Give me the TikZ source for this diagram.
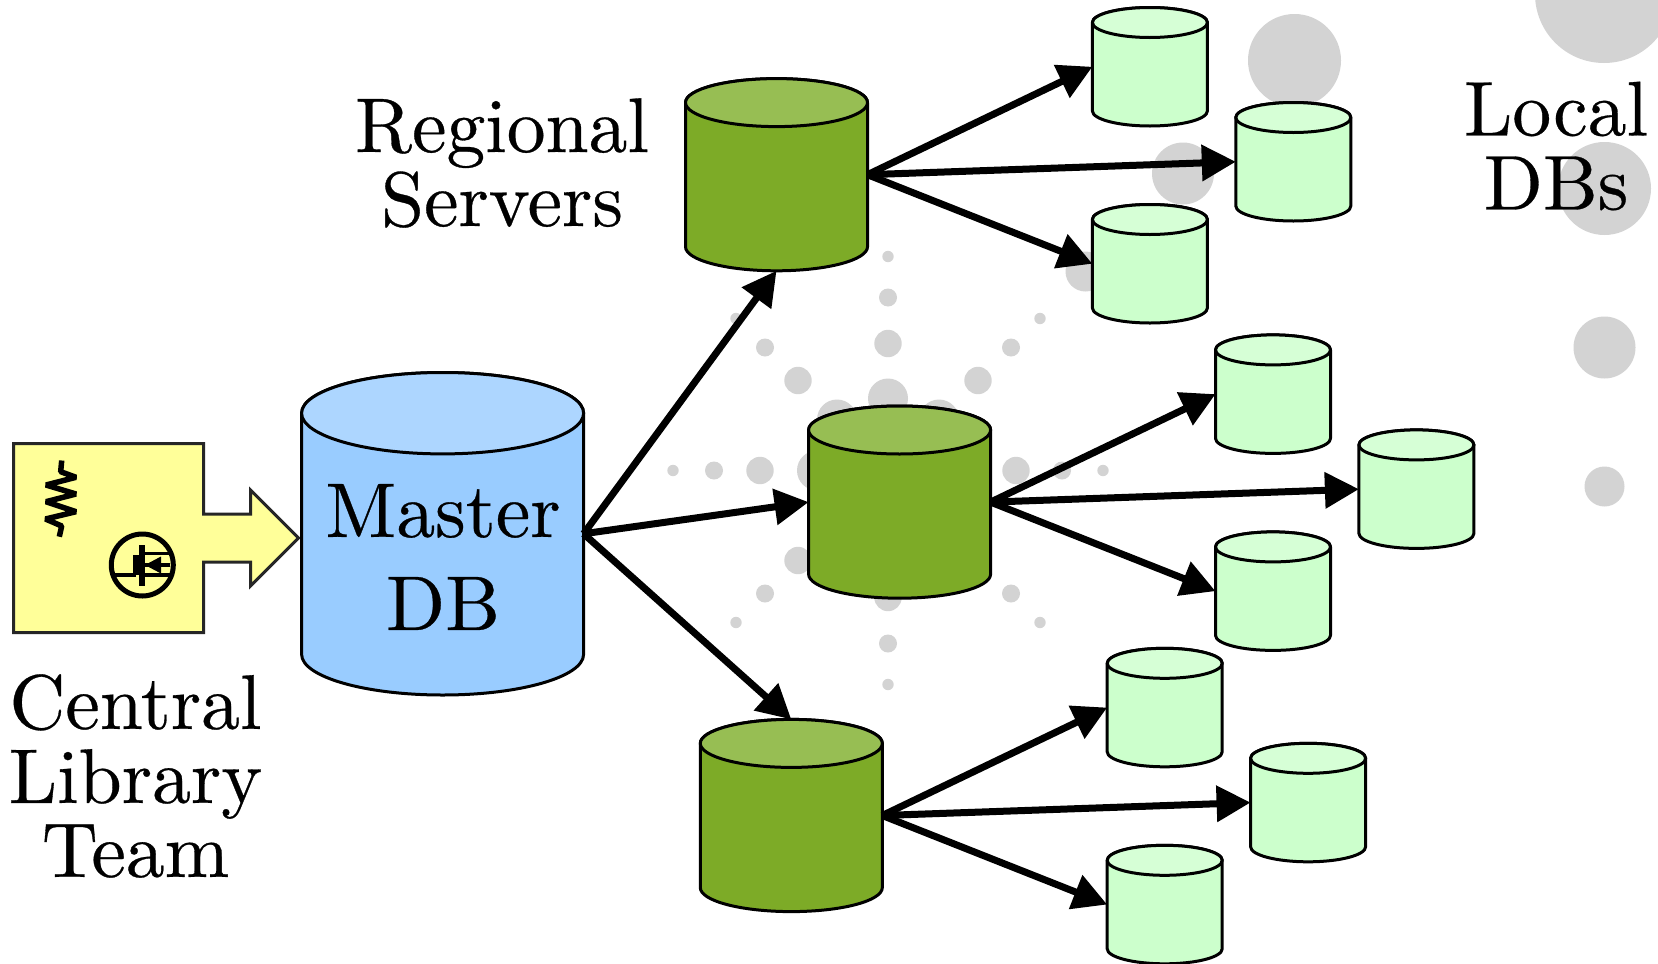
\documentclass[tikz,border=0pt]{standalone}
\usepackage{fontspec}
\setmainfont[Extension=.otf,FakeBold=0.4]{lmroman10-regular}
\usetikzlibrary{arrows.meta}
\definecolor{dotgray}{HTML}{D3D3D3}
\definecolor{masterbody}{HTML}{99CCFF}
\definecolor{mastertop}{HTML}{ADD6FF}
\definecolor{serverbody}{HTML}{7DAB27}
\definecolor{servertop}{HTML}{97BE53}
\definecolor{localbody}{HTML}{CCFFCC}
\definecolor{localtop}{HTML}{D6FFD6}
\definecolor{teamfill}{HTML}{FFFF99}
\newcommand\dbcyl[8]{% name,x,y,w,h,ry,body,top
  \pgfmathsetmacro\cxr{#2+#4}%
  \pgfmathsetmacro\cxm{#2+#4/2}%
  \pgfmathsetmacro\cym{#3+#5/2}%
  \pgfmathsetmacro\cyt{#3+#6}%
  \pgfmathsetmacro\cyb{#3+#5-#6}%
  \pgfmathsetmacro\crx{#4/2}%
  \draw[cylline,fill=#7] (#2,\cyt) -- (#2,\cyb) arc[start angle=180,end angle=0,x radius=\crx,y radius=#6] -- (\cxr,\cyt) arc[start angle=0,end angle=-180,x radius=\crx,y radius=#6] -- cycle;
  \draw[cylline,fill=#8] (\cxm,\cyt) ellipse[x radius=\crx,y radius=#6];
  \node[cylnode,minimum width=#4pt,minimum height=#5pt] (#1) at (\cxm,\cym) {};
}
\newcommand\localgroup[3]{% prefix, server x, server y (top-left)
  \pgfmathsetmacro\lxa{#2+406.9}\pgfmathsetmacro\lxb{#2+550.3}%
  \pgfmathsetmacro\lya{#3-71.1}\pgfmathsetmacro\lyb{#3+23.9}\pgfmathsetmacro\lyc{#3+125.9}%
  \dbcyl{#1a}{\lxa}{\lya}{115}{118.5}{15}{localbody}{localtop}
  \dbcyl{#1b}{\lxb}{\lyb}{115}{118.5}{15}{localbody}{localtop}
  \dbcyl{#1c}{\lxa}{\lyc}{115}{118.5}{15}{localbody}{localtop}
  \dbcyl{#1s}{#2}{#3}{182}{192.2}{24}{serverbody}{servertop}
}
\tikzset{
  cylline/.style={draw=black,line width=3pt,line join=round},
  cylnode/.style={rectangle,draw=none,inner sep=0pt,outer sep=0pt},
  feed/.style={line width=7pt,-{Triangle[length=34pt,width=35pt]}},
  dot/.style={fill=dotgray,draw=none},
  bigtext/.style={align=center,inner sep=0pt,font=\fontsize{77.5}{74}\selectfont},
  symb/.style={line width=5.5pt,line join=bevel}
}
\begin{document}
\begin{tikzpicture}[x=1pt,y=-1pt]
\useasboundingbox (0,0) rectangle (1658,964);
% background dots
\foreach \dx/\dy/\r in {0/-214/5.7,0/-173/9,0/-127/13.7,0/-72/20,0/127/13.7,0/173/9,0/214/5.7,
  -215/0/5.7,-174/0/9,-128/0/13.7,-71/0/20,128/0/13.7,174/0/9,215/0/5.7,
  -152/-152/5.7,-123/-123/9,-90/-90/13.7,-51/-51/20,
  152/-152/5.7,123/-123/9,90/-90/13.7,51/-51/20,
  -152/152/5.7,-123/123/9,-90/90/13.7,
  152/152/5.7,123/123/9,90/90/13.7}
  \fill[dot] (888+\dx,470.5+\dy) circle[radius=\r];
\fill[dot] (1294.5,60.5) circle[radius=46.5];
\fill[dot] (1183,173.5) circle[radius=31];
\fill[dot] (1085.5,271.5) circle[radius=20];
\fill[dot] (1604,-6) circle[radius=69];
\fill[dot] (1604.5,188.5) circle[radius=46.5];
\fill[dot] (1604.5,347.5) circle[radius=31];
\fill[dot] (1604.5,486.5) circle[radius=20];
% team box
\draw[line width=3pt,draw=black!85,fill=teamfill,line join=miter]
  (13.5,443.5) -- (203.5,443.5) -- (203.5,514) -- (250.5,514) -- (250.5,490) -- (298.5,538) -- (250.5,586) -- (250.5,562) -- (203.5,562) -- (203.5,632.5) -- (13.5,632.5) -- cycle;
% resistor
\draw[symb] (61.7,460.5) -- (60.7,471.7) -- (76,477.3) -- (46,485) -- (76,494) -- (46,501.7) -- (76,511.7) -- (45.5,519) -- (61.7,526) -- (59.3,536.7);
% transistor
\draw[line width=5pt] (142.3,565) circle[radius=31];
\draw[line width=4.5pt] (113,575) -- (136,575);
\draw[line width=6pt] (136,555) -- (136,575);
\draw[line width=6pt] (142.3,545) -- (142.3,585.5);
\draw[line width=3.4pt] (142.3,553.5) -- (170,553.5) (142.3,565) -- (170,565) (142.3,575) -- (170,575);
\fill (145,565) -- (161,556.5) -- (161,573.5) -- cycle;
% databases
\dbcyl{master}{301.6}{372.5}{282}{322.5}{40.7}{masterbody}{mastertop}
\localgroup{t}{685.5}{78.6}
\localgroup{m}{808.6}{406}
\localgroup{b}{700.3}{719.4}
% connectors
\draw[feed] (master.east) -- (ts.south);
\draw[feed] (master.east) -- (ms.west);
\draw[feed] (master.east) -- (bs.north);
\foreach \g in {t,m,b}{
  \draw[feed] (\g s.east) -- (\g a.west);
  \draw[feed] (\g s.east) -- (\g b.west);
  \draw[feed] (\g s.east) -- (\g c.west);
}
% labels
\node[bigtext] (lregional) at (502,163) {Regional\\Servers};
\node[bigtext] (llocal) at (1556,146) {Local\\DBs};
\node[bigtext] (lteam) at (135.5,776) {Central\\Library\\Team};
\node[bigtext,font=\fontsize{77.5}{93}\selectfont] (lmaster) at (443,557) {Master\\DB};
\end{tikzpicture}
\end{document}
